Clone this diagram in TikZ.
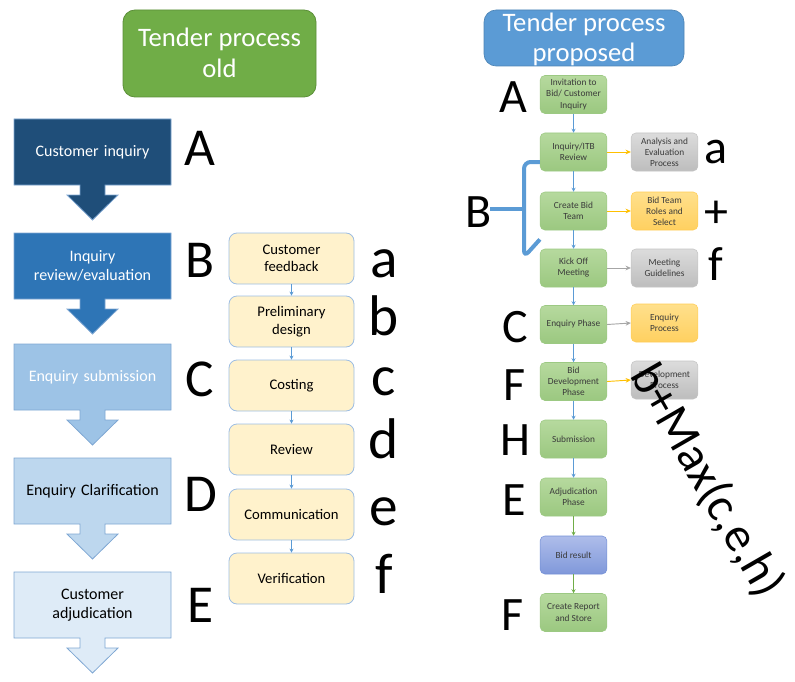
\documentclass[tikz,border=0pt]{standalone}
\usepackage{fontspec}
\setmainfont{Carlito}
\usetikzlibrary{arrows.meta}

% palette
\definecolor{oldgreen}{HTML}{70AD47}
\definecolor{oldgreenline}{HTML}{5B8F38}
\definecolor{newblue}{HTML}{5B9BD5}
\definecolor{chA}{HTML}{1F4E79}
\definecolor{chB}{HTML}{2E75B6}
\definecolor{chC}{HTML}{9DC3E6}
\definecolor{chD}{HTML}{BDD7EE}
\definecolor{chE}{HTML}{DEEBF7}
\definecolor{chline}{HTML}{7FA7D3}
\definecolor{yfill}{HTML}{FFF2CC}
\definecolor{yline}{HTML}{9DBDE3}
\definecolor{arrblue}{HTML}{5B9BD5}
\definecolor{gtop}{HTML}{B6D99E}
\definecolor{gbot}{HTML}{9BC880}
\definecolor{gline}{HTML}{9CC983}
\definecolor{gtext}{HTML}{3A3A3A}
\definecolor{greytop}{HTML}{DCDCDC}
\definecolor{greybot}{HTML}{BDBDBD}
\definecolor{greyline}{HTML}{C4C4C4}
\definecolor{otop}{HTML}{FFE08C}
\definecolor{obot}{HTML}{FFD060}
\definecolor{oline}{HTML}{FFCD55}
\definecolor{ptop}{HTML}{AEBDEA}
\definecolor{pbot}{HTML}{8098DA}
\definecolor{pline}{HTML}{7390D6}
\definecolor{arrorange}{HTML}{FFC000}
\definecolor{arrgrey}{HTML}{A6A6A6}
\definecolor{arrgreen}{HTML}{70AD47}

\begin{document}
\begin{tikzpicture}[x=0.75pt,y=-0.75pt,
  titlebox/.style={rounded corners=9pt, inner sep=0pt},
  titletext/.style={font=\fontsize{20}{24}\selectfont, text=white, anchor=base, inner sep=0pt},
  chevtext/.style={font=\fontsize{12}{14.6}\selectfont, align=center, text width=112pt, inner sep=0pt},
  ybox/.style={draw=yline, fill=yfill, line width=0.6pt, rounded corners=6pt,
    minimum width=93.75pt, minimum height=38.25pt, align=center, inner sep=1pt,
    font=\fontsize{11}{13}\selectfont},
  smallarrow/.style={draw=arrblue, line width=0.5pt, -{Stealth[length=3pt,width=3pt]}},
  gbox/.style={rounded corners=3.5pt, line width=0.4pt, draw=gline, top color=gtop, bottom color=gbot,
    minimum width=50pt, minimum height=28.5pt, align=center, inner sep=1pt,
    text=gtext, font=\fontsize{7}{8.3}\selectfont},
  greybox/.style={gbox, draw=greyline, top color=greytop, bottom color=greybot},
  orangebox/.style={gbox, draw=oline, top color=otop, bottom color=obot},
  resultbox/.style={gbox, draw=pline, top color=ptop, bottom color=pbot},
  sidearrow/.style={line width=0.7pt, -{Stealth[length=4pt,width=3.5pt]}},
  bigL/.style={font=\fontsize{40}{48}\selectfont, anchor=base, inner sep=0pt},
  bigl/.style={font=\fontsize{43}{50}\selectfont, anchor=base, inner sep=0pt},
  rightL/.style={font=\fontsize{36}{42}\selectfont, anchor=base, inner sep=0pt},
  brace/.style={draw=newblue, line width=3pt}
]
\useasboundingbox (0,0) rectangle (795,681);

% ---------- old process ----------
\node[titlebox, fill=oldgreen, draw=oldgreenline, line width=0.6pt,
      minimum width=144.75pt, minimum height=65.25pt] (oldtitle) at (219.5,53.5) {};
\node[titletext] (oldtitle1) at (219.5,47) {Tender process};
\node[titletext] (oldtitle2) at (219.5,78) {old};

% block arrows
\foreach \t/\fc in {119/chA,233/chB,344/chC,458/chD,572/chE}{
  \filldraw[fill=\fc, draw=chline, line width=0.6pt]
    (14,\t) -- (171,\t) -- (171,{\t+66}) -- (105,{\t+66}) -- (105,{\t+76})
    -- (118,{\t+76}) -- (92.5,{\t+101}) -- (67,{\t+76}) -- (80,{\t+76})
    -- (80,{\t+66}) -- (14,{\t+66}) -- cycle;
}
\node[chevtext, text=white] (ch1) at (92.5,152) {Customer inquiry};
\node[chevtext, text=white] (ch2) at (92.5,266) {Inquiry\\review/evaluation};
\node[chevtext, text=white] (ch3) at (92.5,377) {Enquiry submission};
\node[chevtext, text=black] (ch4) at (92.5,491) {Enquiry Clarification};
\node[chevtext, text=black] (ch5) at (92.5,605) {Customer\\adjudication};

\node[bigL] (lA) at (200,166) {A};
\node[bigL] (lB) at (200,277) {B};
\node[bigL] (lC) at (200,396) {C};
\node[bigL] (lD) at (201,511) {D};
\node[bigL] (lE) at (201,622) {E};

% sub-steps
\node[ybox] (y1) at (291.5,258.5) {Customer\\feedback};
\node[ybox] (y2) at (291.5,321.5) {Preliminary\\design};
\node[ybox] (y3) at (291.5,385.5) {Costing};
\node[ybox] (y4) at (291.5,449.5) {Review};
\node[ybox] (y5) at (291.5,514.5) {Communication};
\node[ybox] (y6) at (291.5,578.5) {Verification};
\foreach \a/\b in {y1/y2,y2/y3,y3/y4,y4/y5,y5/y6}
  \draw[smallarrow] (\a.south) -- (\b.north);

\node[bigl] (la) at (384,277) {a};
\node[bigl] (lb) at (384,335) {b};
\node[bigl] (lc) at (384,395) {c};
\node[bigl] (ld) at (384,458) {d};
\node[bigl] (le) at (384,525) {e};
\node[bigl] (lf) at (384,593) {f};

% ---------- proposed process ----------
\node[titlebox, fill=newblue, draw=newblue!85!black, line width=0.5pt,
      minimum width=150pt, minimum height=42pt] (newtitle) at (584,38) {};
\node[titletext] (newtitle1) at (584,32) {Tender process};
\node[titletext] (newtitle2) at (584,62) {proposed};

\node[gbox] (g1) at (573.5,94.5) {Invitation to\\Bid/ Customer\\Inquiry};
\node[gbox] (g2) at (573.5,152) {Inquiry/ITB\\Review};
\node[gbox] (g3) at (573.5,211) {Create Bid\\Team};
\node[gbox] (g4) at (573.5,268) {Kick Off\\Meeting};
\node[gbox] (g5) at (573.5,324.5) {Enquiry Phase};
\node[gbox] (g6) at (573.5,381.5) {Bid\\Development\\Phase};
\node[gbox] (g7) at (573.5,439) {Submission};
\node[gbox] (g8) at (573.5,497) {Adjudication\\Phase};
\node[resultbox] (g9) at (573.5,555) {Bid result};
\node[gbox] (g10) at (573.5,612.5) {Create Report\\and Store};

\foreach \a/\b in {g1/g2,g2/g3,g3/g4,g4/g5,g5/g6,g6/g7,g7/g8}
  \draw[smallarrow] (\a.south) -- (\b.north);
\draw[smallarrow, draw=arrgreen] (g8.south) -- (g9.north);
\draw[smallarrow, draw=arrgreen] (g9.south) -- (g10.north);

\node[greybox] (s1) at (664.5,152) {Analysis and\\Evaluation\\Process};
\node[orangebox] (s2) at (664.5,211) {Bid Team\\Roles and\\Select};
\node[greybox] (s3) at (664.5,268) {Meeting\\Guidelines};
\node[orangebox] (s4) at (664.5,323) {Enquiry\\Process};
\node[greybox] (s5) at (664.5,380) {Development\\Process};

\draw[sidearrow, draw=arrorange] (g2.east) -- (s1.west);
\draw[sidearrow, draw=arrorange] (g3.east) -- (s2.west);
\draw[sidearrow, draw=arrgrey] (g4.east) -- (s3.west);
\draw[sidearrow, draw=arrgrey] (g5.east) -- (s4.west);
\draw[sidearrow, draw=arrorange] (g6.east) -- (s5.west);

\node[rightL] (rA) at (513,113) {A};
\node[rightL] (rB) at (479,227) {B};
\node[rightL] (rC) at (515,342) {C};
\node[rightL] (rF) at (515,400) {F};
\node[rightL] (rH) at (515,455) {H};
\node[rightL] (rE) at (514,515) {E};
\node[rightL] (rF2) at (513,630) {F};
\node[rightL] (ra) at (716,163) {a};
\node[rightL] (rplus) at (716,227) {+};
\node[rightL] (rf) at (716,280) {f};

% brace grouping steps B
\coordinate (brTop) at ([yshift=-7.5pt]g2.west);
\coordinate (brBot) at ([yshift=7pt]g4.north west);
\coordinate (brJoin) at (524,209);
\coordinate (brStem) at (490,209);
\draw[brace, rounded corners=5pt] (brTop) -- (524,162) -- (524,257) -- (brBot);
\draw[brace] (brStem) -- (brJoin);

% estimate formula
\node[rotate=-60, font=\fontsize{36.5}{42}\selectfont, inner sep=0pt] (formula) at (707,481) {b+Max(c,e,h)};
\end{tikzpicture}
\end{document}
